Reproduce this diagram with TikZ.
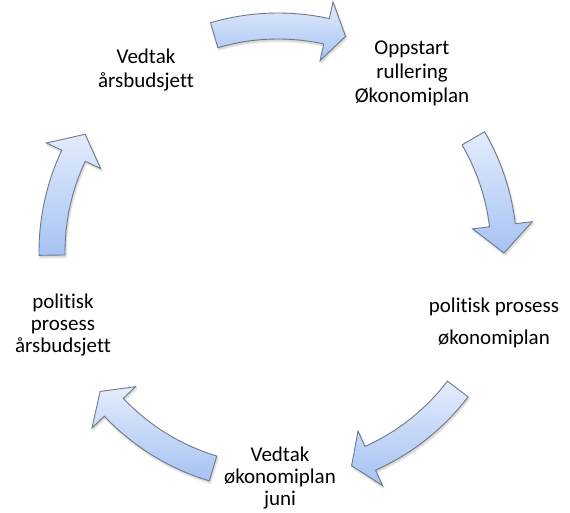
\documentclass[tikz,border=0pt]{standalone}
\usepackage{fontspec}
\setmainfont{Carlito}[Ligatures={NoCommon}]
\usetikzlibrary{calc,shadows.blur}
\definecolor{arrowtop}{HTML}{E3ECFC}
\definecolor{arrowbot}{HTML}{A6C2F3}
\definecolor{arrowline}{HTML}{6E7A88}
% #1 tail angle, #2 head base angle, #3 tip angle
\newcommand\cyclearrow[3]{%
  \path[cyclearrowstyle]
    ($(C)+(#1:239)$) arc[start angle=#1, end angle=#2, radius=239]
    -- ($(C)+(#2:256)$) -- ($(C)+(#3:226)$) -- ($(C)+(#2:196)$)
    -- ($(C)+(#2:213)$) arc[start angle=#2, end angle=#1, radius=213]
    -- cycle;}
\begin{document}
\begin{tikzpicture}[x=1pt,y=1pt,
  cyclearrowstyle/.style={draw=arrowline, line width=0.9pt, line join=miter,
    top color=arrowtop, bottom color=arrowbot,
    blur shadow={shadow xshift=1pt, shadow yshift=-2pt, shadow opacity=22, shadow blur steps=6}},
  lbl/.style={font=\fontsize{21}{24}\selectfont, align=center, inner sep=0pt, text=black}]
\useasboundingbox (0,0) rectangle (570,513);
\coordinate (C) at (278,261);

\cyclearrow{106.4}{77.6}{72.6}
\cyclearrow{30.2}{6.8}{-0.25}
\cyclearrow{-37.3}{-65.9}{-71}
\cyclearrow{-106.7}{-136.6}{-141.9}
\cyclearrow{180.8}{154.8}{148.6}

\node[lbl] (tl) at (146,443) {Vedtak\\årsbudsjett};
\node[lbl] (tr) at (412,440) {Oppstart\\rullering\\Økonomiplan};
\node[lbl] (r)  at (494,190) {politisk prosess\\[8pt]økonomiplan};
\node[lbl, font=\fontsize{21}{22}\selectfont] (b) at (280,35) {Vedtak\\økonomiplan\\juni};
\node[lbl, font=\fontsize{21}{22}\selectfont] (l) at (63,188) {politisk\\prosess\\årsbudsjett};
\end{tikzpicture}
\end{document}
